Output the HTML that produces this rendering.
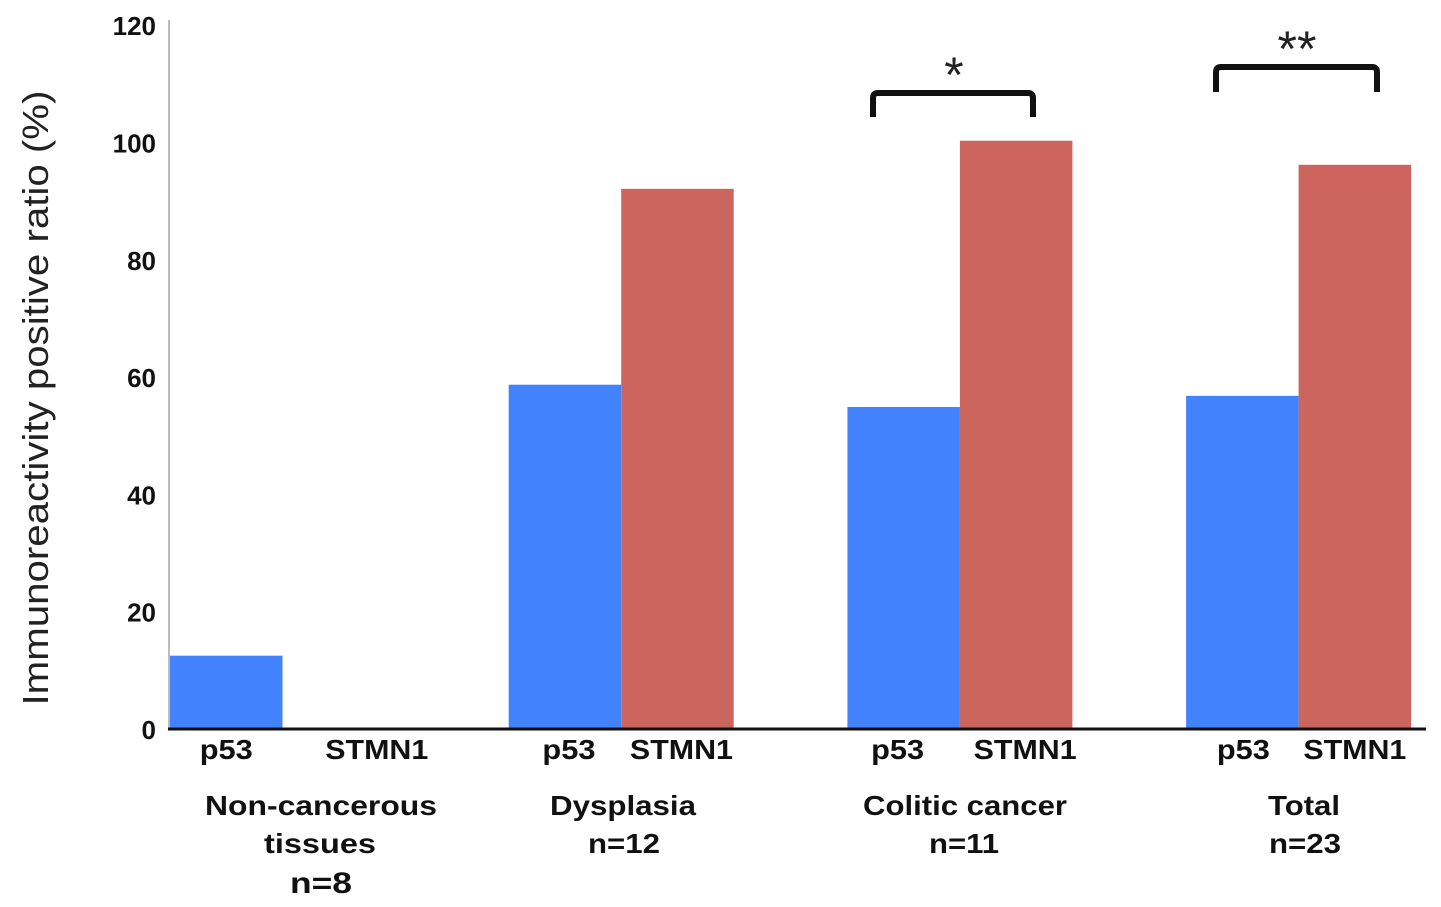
<!DOCTYPE html>
<html><head><meta charset="utf-8"><style>
body{margin:0;background:#fff}
svg{display:block;font-family:"Liberation Sans",sans-serif}
</style></head><body>
<svg id="chart" width="1441" height="907">
<g id="ticks"></g><g id="bars"></g>
<line x1="169" y1="20" x2="169" y2="729" stroke="#bbb" stroke-width="2"/>
<line x1="168" y1="729" x2="1426" y2="729" stroke="#111" stroke-width="3"/>
<text transform="translate(48,398) rotate(-90)" text-anchor="middle" font-size="36" fill="#222" textLength="615" lengthAdjust="spacingAndGlyphs">Immunoreactivity positive ratio (%)</text>
<g font-weight="bold" font-size="28" fill="#111" text-anchor="middle">
<text x="321" y="815" textLength="232" lengthAdjust="spacingAndGlyphs">Non-cancerous</text>
<text x="320" y="853" textLength="112" lengthAdjust="spacingAndGlyphs">tissues</text>
<text x="321" y="893" font-size="30" textLength="62" lengthAdjust="spacingAndGlyphs">n=8</text>
<text x="623" y="815" textLength="146" lengthAdjust="spacingAndGlyphs">Dysplasia</text>
<text x="624" y="853" textLength="72" lengthAdjust="spacingAndGlyphs">n=12</text>
<text x="965" y="815" textLength="204" lengthAdjust="spacingAndGlyphs">Colitic cancer</text>
<text x="964" y="853" textLength="70" lengthAdjust="spacingAndGlyphs">n=11</text>
<text x="1304" y="815" textLength="72" lengthAdjust="spacingAndGlyphs">Total</text>
<text x="1305" y="853" textLength="72" lengthAdjust="spacingAndGlyphs">n=23</text>
</g>
<path d="M873,117 V98 Q873,93 878,93 H1028 Q1033,93 1033,98 V117" fill="none" stroke="#111" stroke-width="6"/>
<text x="954" y="92" text-anchor="middle" font-size="50" fill="#222">*</text>
<path d="M1216,92 V72 Q1216,67 1221,67 H1372 Q1377,67 1377,72 V92" fill="none" stroke="#111" stroke-width="6"/>
<text x="1297" y="66" text-anchor="middle" font-size="50" fill="#222">**</text>
</svg>
<script>
const categories=["Non-cancerous","Dysplasia","Colitic cancer","Total"];
const p53Values=[12.5,58.7,54.9,56.8];
const stmn1Values=[0,92.1,100.3,96.2];
const yTicks=[0,20,40,60,80,100,120];
const seriesNames=["p53","STMN1"];
const NS="http://www.w3.org/2000/svg";
const y=v=>729-v*5.865;
const gx=i=>170+i*338.7;
const bw=112.5;
const labelShift=[[0,38],[4,4],[-6,9],[1,0]];
const bars=document.getElementById('bars'),ticks=document.getElementById('ticks');
function mk(t,a,p){const e=document.createElementNS(NS,t);for(const k in a)e.setAttribute(k,a[k]);p.appendChild(e);return e;}
yTicks.forEach(t=>{
 const e=mk('text',{x:156,y:y(t)+10,'text-anchor':'end','font-size':26,'font-weight':'bold',fill:'#111'},ticks);
 e.textContent=t;
 
 
});
categories.forEach((c,i)=>{
 [p53Values[i],stmn1Values[i]].forEach((v,j)=>{
  const x=gx(i)+j*bw;
  const r=mk('rect',{x:x,y:y(v),width:bw,height:729-y(v),fill:j?'#cc655e':'#4282fc'},bars);
  
  
  const l=mk('text',{x:x+bw/2+labelShift[i][j],y:759,'text-anchor':'middle','font-size':28,'font-weight':'bold',fill:'#111',textLength:j?103:53,lengthAdjust:'spacingAndGlyphs'},bars);
  l.textContent=seriesNames[j];
  
  
 });
});
</script>
</body></html>
